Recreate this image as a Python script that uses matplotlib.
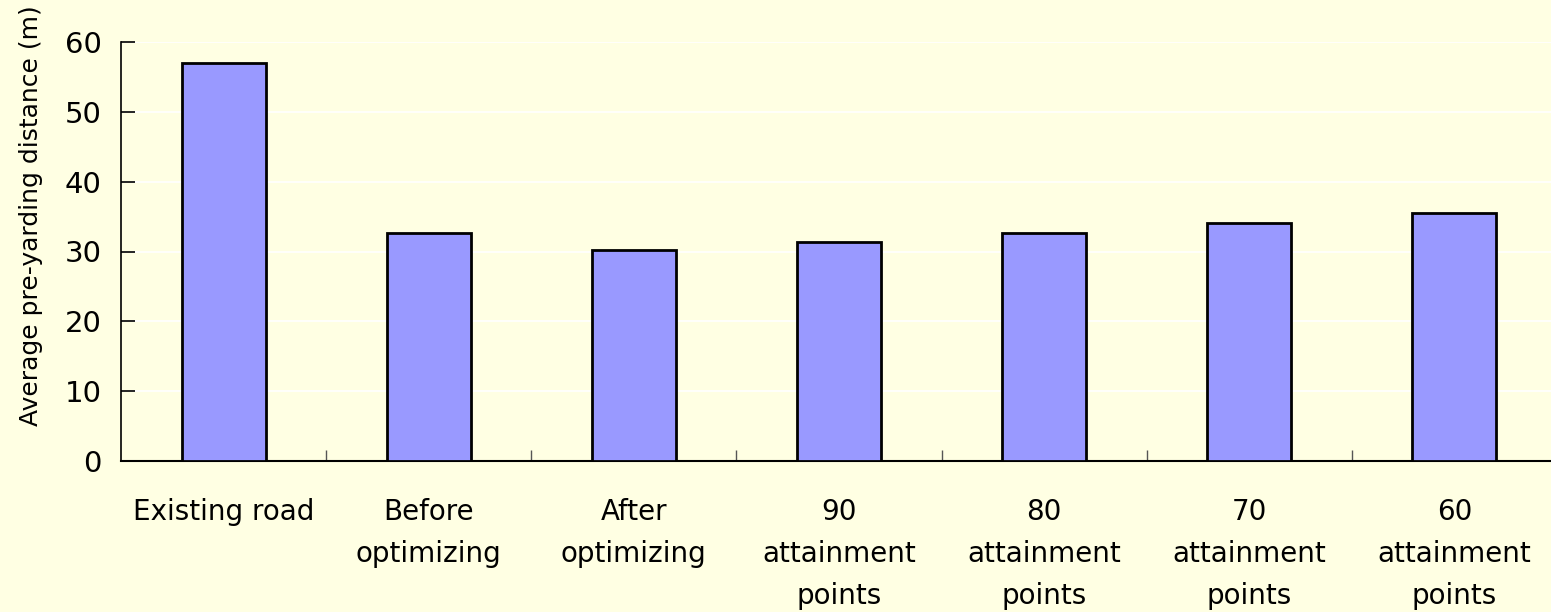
import matplotlib
matplotlib.use("Agg")
import matplotlib.pyplot as plt

plt.rcParams['font.family'] = ['DejaVu Sans']

categories = [
    "Existing road",
    "Before\noptimizing",
    "After\noptimizing",
    "90\nattainment\npoints",
    "80\nattainment\npoints",
    "70\nattainment\npoints",
    "60\nattainment\npoints",
]
distances = [57.0, 32.7, 30.2, 31.4, 32.7, 34.1, 35.5]
y_ticks = [0, 10, 20, 30, 40, 50, 60]

bg = "#FFFFE3"
fig = plt.figure(figsize=(15.51, 6.12), dpi=100, facecolor=bg)
ax = fig.add_axes([121 / 1551, 1 - 461 / 612, 1436 / 1551, 419 / 612], facecolor=bg)

x = range(len(categories))
ax.bar(x, distances, width=0.41, color="#9999FF", edgecolor="black", linewidth=2, zorder=3)

ax.set_xlim(-0.5, len(categories) - 0.5)
ax.set_ylim(0, 60)
ax.set_yticks(y_ticks)
ax.yaxis.grid(True, color="white", linewidth=1.2, zorder=0)

# category separators on the x axis instead of centred ticks
ax.set_xticks([i + 0.5 for i in range(len(categories) - 1)], minor=True)
ax.set_xticks(list(x))
ax.set_xticklabels(categories, fontsize=20, linespacing=1.62, va="top")
ax.tick_params(axis="x", which="major", length=0, pad=27)
ax.tick_params(axis="x", which="minor", direction="in", length=8, width=1, color="#555555")
ax.tick_params(axis="y", direction="in", length=10, width=1.2, labelsize=21, pad=14)

for side in ("top", "right"):
    ax.spines[side].set_visible(False)
ax.spines["left"].set_linewidth(1.2)
ax.spines["bottom"].set_linewidth(1.5)

ax.set_ylabel("Average pre-yarding distance (m)", fontsize=18)
ax.yaxis.set_label_coords(-0.054, 0.585)

fig.savefig("out.png", dpi=100, facecolor=bg)
